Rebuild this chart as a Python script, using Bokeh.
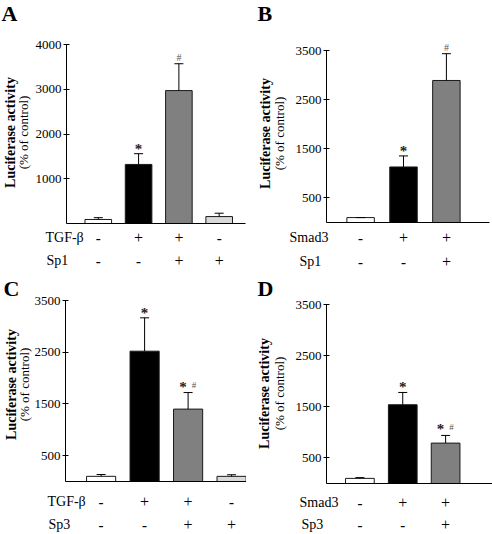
import math
from bokeh.plotting import figure
from bokeh.models import Range1d, FixedTicker, Label, ColumnDataSource, LinearAxis
from bokeh.layouts import column, row
from bokeh.embed import file_html
from bokeh.resources import INLINE

FONT = "Liberation Serif"

# ---------------- data ----------------
a_values = [90, 1320, 2970, 155]
a_errors = [40, 240, 600, 75]
a_marks = ["", "*", "#", ""]
a_row1 = ["-", "+", "+", "-"]
a_row2 = ["-", "-", "+", "+"]
a_row_names = ["TGF-β", "Sp1"]
a_ticks = [1000, 2000, 3000, 4000]

b_values = [100, 1130, 2890]
b_errors = [0, 225, 545]
b_marks = ["", "*", "#"]
b_row1 = ["-", "+", "+"]
b_row2 = ["-", "-", "+"]
b_row_names = ["Smad3", "Sp1"]
b_ticks = [500, 1500, 2500, 3500]

c_values = [100, 2520, 1400, 100]
c_errors = [35, 645, 320, 30]
c_marks = ["", "*", "*#", ""]
c_row1 = ["-", "+", "+", "-"]
c_row2 = ["-", "-", "+", "+"]
c_row_names = ["TGF-β", "Sp3"]
c_ticks = [500, 1500, 2500, 3500]

d_values = [100, 1540, 790]
d_errors = [15, 240, 150]
d_marks = ["", "*", "*#"]
d_row1 = ["-", "+", "+"]
d_row2 = ["-", "-", "+"]
d_row_names = ["Smad3", "Sp3"]
d_ticks = [500, 1500, 2500, 3500]

y_title = "Luciferase activity"
y_subtitle = "(% of control)"

# ---------------- styles / geometry ----------------
BAR_FILLS = ["#ffffff", "#000000", "#808080", "#d9d9d9"]
COL_W = 246
TOP_H, BOT_H = 270, 264

# positions in page pixels (ox, oy = figure's top-left on the page)
GEOM = {
    "A": dict(ox=0, oy=0, w=COL_W, h=TOP_H, axis_x=66, right=245, top=44, base=223,
              ymax=4000, xr=(0.211, 4.653), bw=0.66, tx=(10, 23), ty=132,
              letter=(1, 0), heads=(45, 46), rows=(237, 260)),
    "B": dict(ox=246, oy=0, w=COL_W, h=TOP_H, axis_x=326, right=489, top=50, base=222,
              ymax=3500, xr=(0.205, 4.005), bw=0.64, tx=(264.5, 278.5), ty=133,
              letter=(257, 0), heads=(289, 299), rows=(237, 261)),
    "C": dict(ox=0, oy=270, w=COL_W, h=BOT_H, axis_x=65, right=246, top=300, base=481,
              ymax=3500, xr=(0.181, 4.343), bw=0.67, tx=(11, 24), ty=384,
              letter=(3, 275), heads=(47, 48), rows=(501, 524)),
    "D": dict(ox=246, oy=270, w=COL_W, h=BOT_H, axis_x=326, right=492, top=304, base=483,
              ymax=3500, xr=(0.221, 4.094), bw=0.67, tx=(263.5, 278.5), ty=393,
              letter=(257, 275), heads=(299, 301), rows=(502, 524)),
}


def make_panel(letter, values, errors, marks, row1, row2, row_names, ticks):
    g = GEOM[letter]
    W, H = g["w"], g["h"]
    fl = g["axis_x"] - g["ox"]
    fr = g["right"] - g["ox"]
    ft = g["top"] - g["oy"]
    fb = g["base"] - g["oy"]
    x0, x1 = g["xr"]
    ppx = (fr - fl) / (x1 - x0)
    ppy = (fb - ft) / g["ymax"]
    xs_start = x0 - fl / ppx
    xs_end = xs_start + W / ppx
    ys_start = -(H - fb) / ppy
    ys_end = ys_start + H / ppy

    def sx(xref):
        return xref - g["ox"]

    def sy(yref):
        return H - (yref - g["oy"])

    p = figure(width=W, height=H, output_backend="svg", toolbar_location=None,
               x_range=Range1d(xs_start, xs_end), y_range=Range1d(ys_start, ys_end),
               x_axis_type=None, y_axis_type=None,
               min_border_left=0, min_border_right=0,
               min_border_top=0, min_border_bottom=0)
    p.outline_line_color = None
    p.background_fill_color = "white"
    p.border_fill_color = "white"

    ax = LinearAxis(fixed_location=x0, bounds=(0, g["ymax"]),
                    ticker=FixedTicker(ticks=ticks))
    ax.major_tick_in = 3
    ax.major_tick_out = 3
    ax.minor_tick_line_color = None
    ax.axis_line_color = "black"
    ax.major_tick_line_color = "black"
    ax.major_label_text_font = FONT
    ax.major_label_text_font_size = "13px"
    ax.major_label_text_color = "black"
    ax.major_label_standoff = 2
    p.add_layout(ax, "left")

    xa = LinearAxis(fixed_location=0, bounds=(x0, x1), ticker=FixedTicker(ticks=[]))
    xa.major_label_text_font_size = "0px"
    xa.minor_tick_line_color = None
    xa.major_tick_line_color = None
    xa.axis_line_color = "black"
    p.add_layout(xa, "below")

    n = len(values)
    xs = [i + 1 for i in range(n)]
    tops = [v + e for v, e in zip(values, errors)]
    src = ColumnDataSource(dict(x=xs, top=values, etop=tops, fill=BAR_FILLS[:n]))
    p.vbar(x="x", top="top", bottom=0, width=g["bw"], fill_color="fill",
           line_color="#1a1a1a", line_width=1, source=src)
    p.segment(x0="x", y0="top", x1="x", y1="etop", line_color="black",
              line_width=1, source=src)
    p.scatter(x="x", y="etop", marker="dash", size=9, line_color="black",
              line_width=1, source=src)

    # significance marks
    for x, t, m in zip(xs, tops, marks):
        if "*" in m and "#" in m:
            p.add_layout(Label(x=x, y=t, text="*", x_offset=-5, y_offset=6,
                               text_font=FONT, text_font_size="15px",
                               text_font_style="bold", text_align="center",
                               text_baseline="alphabetic", text_color="#222"))
            p.add_layout(Label(x=x, y=t, text="#", x_offset=6, y_offset=8,
                               text_font=FONT, text_font_size="9px",
                               text_align="center", text_baseline="alphabetic",
                               text_color="#555"))
        elif m == "*":
            p.add_layout(Label(x=x, y=t, text="*", y_offset=5,
                               text_font=FONT, text_font_size="15px",
                               text_font_style="bold", text_align="center",
                               text_baseline="alphabetic", text_color="#222"))
        elif m == "#":
            p.add_layout(Label(x=x, y=t, text="#", y_offset=6,
                               text_font=FONT, text_font_size="10px",
                               text_align="center", text_baseline="alphabetic",
                               text_color="#555"))

    # condition rows below the axis
    for r, (name, signs) in enumerate(zip(row_names, [row1, row2])):
        yy = sy(g["rows"][r])
        p.add_layout(Label(x=sx(g["heads"][r]), y=yy, x_units="screen", y_units="screen",
                           text=name, text_font=FONT, text_font_size="14px",
                           text_align="left", text_baseline="middle", text_color="black"))
        for x, s in zip(xs, signs):
            if s == "+":
                p.add_layout(Label(x=x, y=yy, y_units="screen", text="+",
                                   text_font=FONT, text_font_size="16px",
                                   text_align="center", text_baseline="middle",
                                   text_color="black"))
            else:
                p.add_layout(Label(x=x, y=yy, y_units="screen", text="-",
                                   text_font=FONT, text_font_size="15px",
                                   text_font_style="bold", text_align="center",
                                   text_baseline="middle", text_color="black"))

    # axis titles
    p.add_layout(Label(x=sx(g["tx"][0]), y=sy(g["ty"]), x_units="screen", y_units="screen",
                       text=y_title, angle=math.pi / 2, text_font=FONT,
                       text_font_size="14px", text_font_style="bold",
                       text_align="center", text_baseline="middle", text_color="black"))
    p.add_layout(Label(x=sx(g["tx"][1]), y=sy(g["ty"]), x_units="screen", y_units="screen",
                       text=y_subtitle, angle=math.pi / 2, text_font=FONT,
                       text_font_size="13px", text_align="center",
                       text_baseline="middle", text_color="black"))

    # panel letter
    lx, ly = g["letter"]
    p.add_layout(Label(x=sx(lx), y=sy(ly), x_units="screen", y_units="screen",
                       text=letter, text_font=FONT, text_font_size="22px",
                       text_font_style="bold", text_align="left",
                       text_baseline="top", text_color="black"))
    return p


pA = make_panel("A", a_values, a_errors, a_marks, a_row1, a_row2, a_row_names, a_ticks)
pB = make_panel("B", b_values, b_errors, b_marks, b_row1, b_row2, b_row_names, b_ticks)
pC = make_panel("C", c_values, c_errors, c_marks, c_row1, c_row2, c_row_names, c_ticks)
pD = make_panel("D", d_values, d_errors, d_marks, d_row1, d_row2, d_row_names, d_ticks)

layout = column(row(pA, pB), row(pC, pD))

with open("out.html", "w") as f:
    f.write(file_html(layout, INLINE))
